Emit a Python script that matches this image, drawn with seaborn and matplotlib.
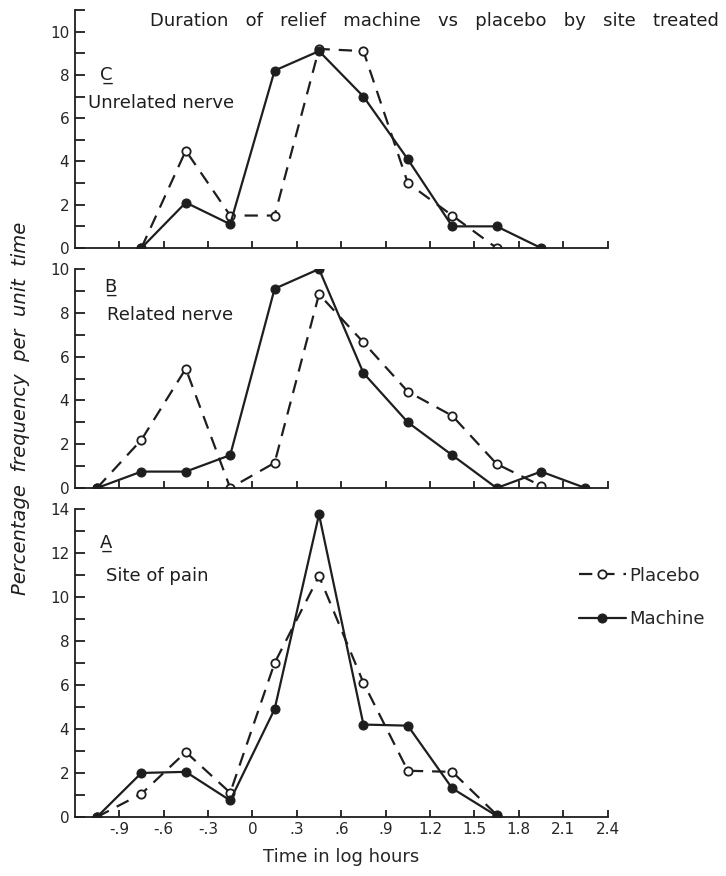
import numpy as np
import pandas as pd
import matplotlib
matplotlib.use("Agg")
import matplotlib.pyplot as plt
import seaborn as sns

# bin centres (log hours)
c_x = [-0.75, -0.45, -0.15, 0.15, 0.45, 0.75, 1.05, 1.35, 1.65, 1.95]
c_placebo = [0, 4.5, 1.5, 1.5, 9.2, 9.1, 3.0, 1.5, 0, np.nan]
c_machine = [0, 2.1, 1.1, 8.2, 9.1, 7.0, 4.1, 1.0, 1.0, 0]

b_x = [-1.05, -0.75, -0.45, -0.15, 0.15, 0.45, 0.75, 1.05, 1.35, 1.65, 1.95, 2.25]
b_placebo = [0, 2.2, 5.45, 0, 1.15, 8.85, 6.65, 4.4, 3.3, 1.1, 0.1, np.nan]
b_machine = [0, 0.75, 0.75, 1.5, 9.1, 10.0, 5.25, 3.0, 1.5, 0, 0.75, 0]

a_x = [-1.05, -0.75, -0.45, -0.15, 0.15, 0.45, 0.75, 1.05, 1.35, 1.65]
a_placebo = [0, 1.05, 2.95, 1.1, 7.0, 10.95, 6.1, 2.1, 2.05, 0.1]
a_machine = [0, 2.0, 2.05, 0.75, 4.9, 13.75, 4.2, 4.15, 1.3, 0.05]

x_ticks = [-0.9, -0.6, -0.3, 0, 0.3, 0.6, 0.9, 1.2, 1.5, 1.8, 2.1, 2.4]
x_ticklabels = ['-.9', '-.6', '-.3', '0', '.3', '.6', '.9', '1.2', '1.5', '1.8', '2.1', '2.4']

sns.set_theme(style="white")
plt.rcParams['font.family'] = ['DejaVu Sans']
ink = '#1e1e1e'

fig = plt.figure(figsize=(7.26, 8.76), dpi=100)
axC = fig.add_axes([0.103, 0.7169, 0.734, 0.2717])
axB = fig.add_axes([0.103, 0.4429, 0.734, 0.25])
axA = fig.add_axes([0.103, 0.0674, 0.734, 0.3516])


def draw(ax, x, placebo, machine, ymax, top):
    dfp = pd.DataFrame({'x': x, 'y': placebo}).dropna()
    dfm = pd.DataFrame({'x': x, 'y': machine}).dropna()
    sns.lineplot(data=dfp, x='x', y='y', ax=ax, color=ink, lw=1.6,
                 linestyle=(0, (6, 4)), marker='o', markersize=6,
                 markerfacecolor='white', markeredgecolor=ink,
                 markeredgewidth=1.3, label='Placebo')
    sns.lineplot(data=dfm, x='x', y='y', ax=ax, color=ink, lw=1.6,
                 marker='o', markersize=6.5, markerfacecolor=ink,
                 markeredgecolor=ink, label='Machine')
    ax.set_xlim(-1.2, 2.4)
    ax.set_ylim(0, top)
    ax.set_xticks(x_ticks)
    ax.set_yticks(np.arange(0, ymax + 1, 2))
    ax.set_yticks(np.arange(1, top + 0.5, 2), minor=True)
    ax.tick_params(axis='y', which='both', direction='in', length=7,
                   width=1.3, color=ink, labelsize=11, pad=4, left=True)
    ax.tick_params(axis='x', direction='in', length=5, width=1.3,
                   color=ink, labelsize=11, bottom=True)
    for s in ['top', 'right']:
        ax.spines[s].set_visible(False)
    for s in ['left', 'bottom']:
        ax.spines[s].set_color(ink)
        ax.spines[s].set_linewidth(1.3)
    ax.set_xlabel('')
    ax.set_ylabel('')
    ax.get_legend().remove()


draw(axC, c_x, c_placebo, c_machine, 10, 11)
draw(axB, b_x, b_placebo, b_machine, 10, 10)
draw(axA, a_x, a_placebo, a_machine, 14, 14)

axC.set_xticklabels([])
axB.set_xticklabels([])
axA.set_xticklabels(x_ticklabels)
axA.set_xlabel('Time in log hours', fontsize=13, labelpad=8)

lab = dict(fontsize=13, color=ink)
axC.text(-1.03, 8.0, 'C\u0332', va='center', **lab)
axC.text(-1.11, 6.7, 'Unrelated nerve', va='center', **lab)
axB.text(-1.0, 9.2, 'B\u0332', va='center', **lab)
axB.text(-0.98, 7.9, 'Related nerve', va='center', **lab)
axA.text(-1.03, 12.45, 'A\u0332', va='center', **lab)
axA.text(-0.99, 10.95, 'Site of pain', va='center', **lab)

h, l = axA.get_legend_handles_labels()
fig.legend(h, l, loc='center left', bbox_to_anchor=(0.775, 0.318),
           frameon=False, fontsize=13, handlelength=2.6, handletextpad=0.2,
           labelspacing=1.4)

fig.text(0.99, 0.976, 'Duration   of   relief   machine   vs   placebo   by   site   treated',
         fontsize=13, ha='right', va='center', color=ink)
fig.text(0.028, 0.534, 'Percentage  frequency  per  unit  time', fontsize=14,
         style='italic', rotation=90, ha='center', va='center', color=ink)

fig.savefig('out.png', dpi=100, facecolor='white')
